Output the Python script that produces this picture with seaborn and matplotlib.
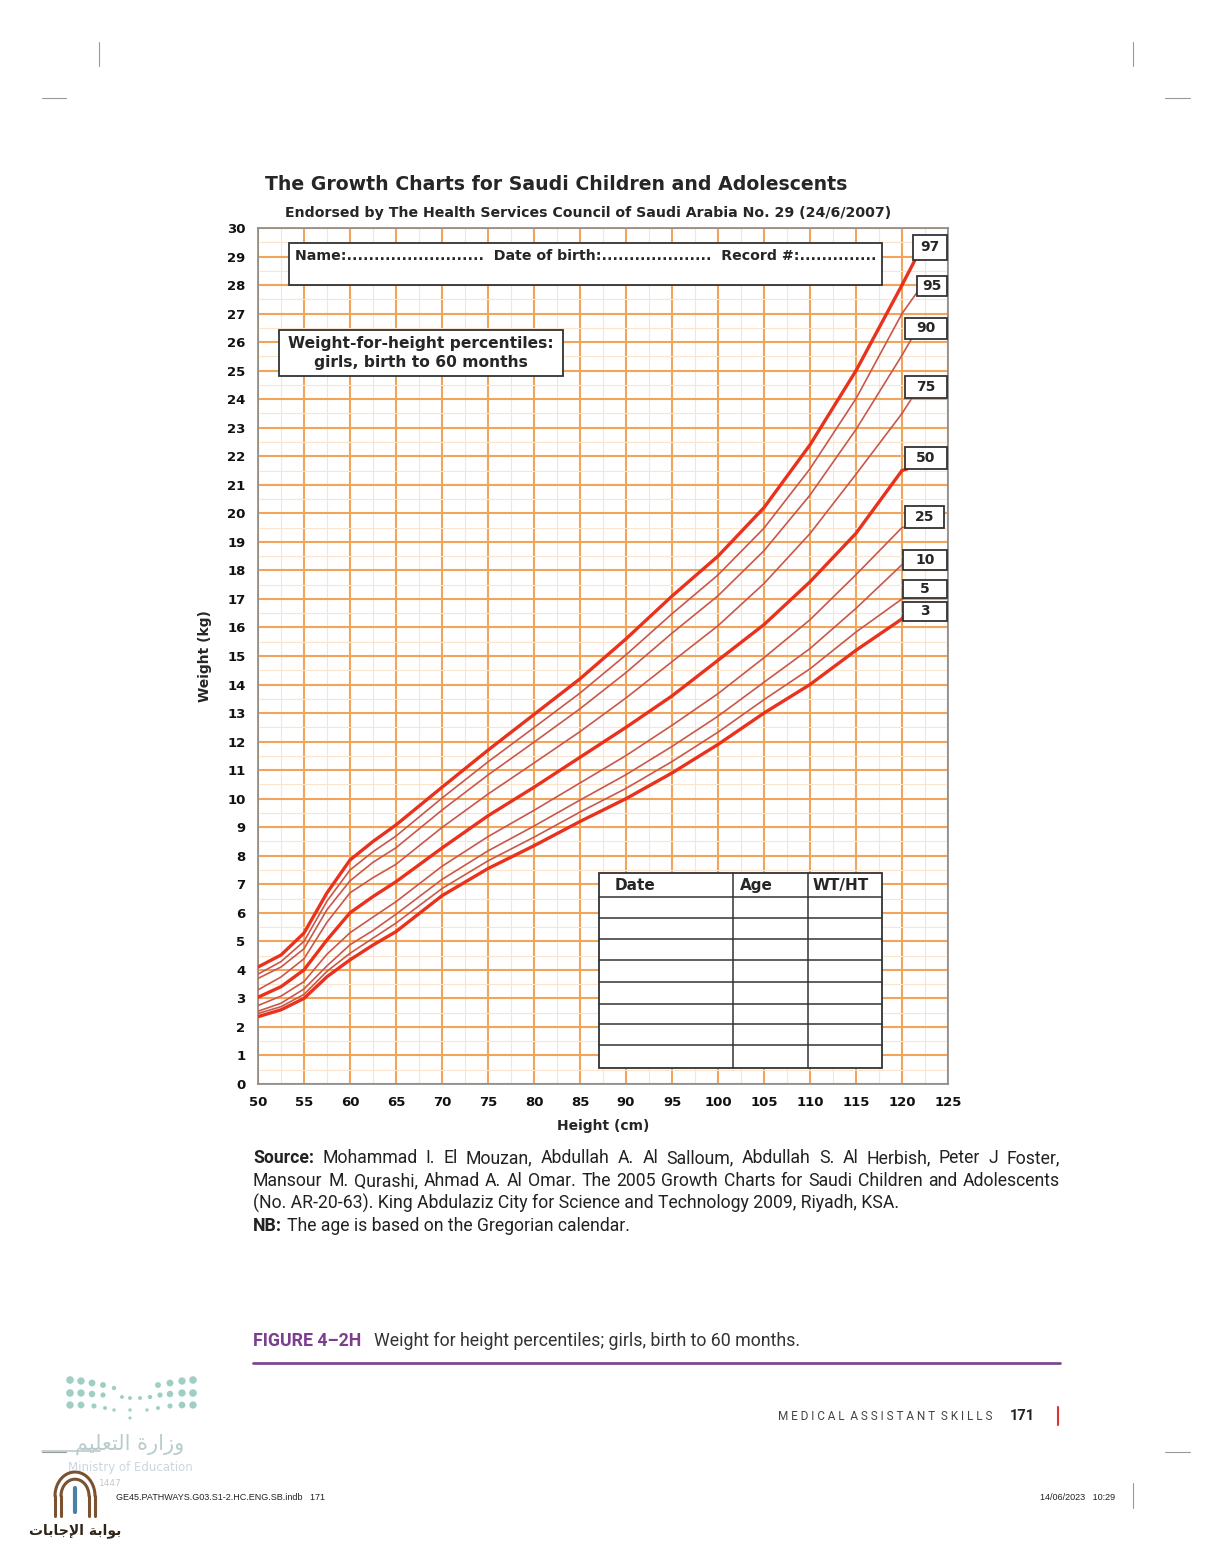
import numpy as np
import pandas as pd
import matplotlib
matplotlib.use("Agg")
import matplotlib.pyplot as plt
import seaborn as sns
from matplotlib.patches import Rectangle
from matplotlib.lines import Line2D
from matplotlib.ticker import MultipleLocator

# ---------------- data ----------------
heights = [50, 52.5, 55, 57.5, 60, 62.5, 65, 70, 75, 80, 85, 90, 95, 100, 105, 110, 115, 120]
p97 = [4.10, 4.52, 5.29, 6.70, 7.85, 8.50, 9.08, 10.40, 11.70, 12.95, 14.20, 15.60, 17.10, 18.50, 20.20, 22.40, 25.00, 28.00]
p95 = [3.85, 4.29, 5.00, 6.41, 7.50, 8.14, 8.69, 10.02, 11.29, 12.49, 13.70, 15.04, 16.48, 17.84, 19.48, 21.56, 24.02, 27.00]
p90 = [3.70, 4.10, 4.74, 6.11, 7.12, 7.77, 8.28, 9.60, 10.83, 11.98, 13.15, 14.42, 15.80, 17.11, 18.69, 20.64, 22.94, 25.54]
p75 = [3.30, 3.75, 4.39, 5.67, 6.70, 7.23, 7.70, 8.99, 10.16, 11.25, 12.35, 13.53, 14.80, 16.06, 17.54, 19.29, 21.37, 23.50]
p50 = [3.04, 3.41, 4.00, 5.05, 6.00, 6.57, 7.09, 8.27, 9.40, 10.40, 11.45, 12.50, 13.60, 14.85, 16.10, 17.60, 19.30, 21.50]
p25 = [2.75, 3.08, 3.59, 4.55, 5.30, 5.85, 6.39, 7.63, 8.67, 9.59, 10.55, 11.51, 12.57, 13.68, 14.94, 16.27, 17.85, 19.50]
p10 = [2.55, 2.83, 3.33, 4.14, 4.88, 5.38, 5.95, 7.17, 8.17, 9.04, 9.95, 10.84, 11.83, 12.89, 14.08, 15.26, 16.67, 18.20]
p5 = [2.47, 2.71, 3.14, 3.95, 4.58, 5.11, 5.64, 6.85, 7.82, 8.65, 9.53, 10.36, 11.30, 12.33, 13.47, 14.55, 15.84, 17.00]
p3 = [2.36, 2.60, 3.00, 3.76, 4.35, 4.87, 5.34, 6.60, 7.55, 8.35, 9.20, 10.00, 10.90, 11.90, 13.00, 14.00, 15.20, 16.30]

percentiles = ["97", "95", "90", "75", "50", "25", "10", "5", "3"]
series = [p97, p95, p90, p75, p50, p25, p10, p5, p3]
bold_pcts = ["97", "50", "3"]

x_ticks = list(range(50, 126, 5))
y_ticks = list(range(0, 31))

table_headers = ["Date", "Age", "WT/HT"]

df = pd.DataFrame({
    "height": np.tile(heights, len(percentiles)),
    "weight": np.concatenate(series),
    "pct": np.repeat(percentiles, len(heights)),
})

# ---------------- style ----------------
sns.set_style("white")
plt.rcParams["font.family"] = ["DejaVu Sans"]

W, H = 1206, 1551
fig = plt.figure(figsize=(W / 100, H / 100), dpi=100)
fig.patch.set_facecolor("white")


def fx(px):
    return px / W


def fy(py):
    return 1 - py / H


def dx(px):
    return 50 + (px - 258) / 9.2


def dy(py):
    return (1084 - py) / 28.533


ax = fig.add_axes([fx(258), fy(1084), 690 / W, 856 / H])
ax.set_xlim(50, 125)
ax.set_ylim(0, 30)

# grid
ax.xaxis.set_major_locator(MultipleLocator(5))
ax.yaxis.set_major_locator(MultipleLocator(1))
ax.xaxis.set_minor_locator(MultipleLocator(2.5))
ax.yaxis.set_minor_locator(MultipleLocator(0.5))
ax.set_axisbelow(True)
ax.grid(which="major", color="#f2a45a", lw=1.5)
ax.grid(which="minor", color="#fbe4cb", lw=0.8)
ax.set_xticks(x_ticks)
ax.set_yticks(y_ticks)
ax.set_xticklabels([str(v) for v in x_ticks], fontweight="bold", fontsize=9.5)
ax.set_yticklabels([str(v) for v in y_ticks], fontweight="bold", fontsize=9.5)
ax.tick_params(axis="both", which="both", length=0, pad=9, colors="#111")
for s in ax.spines.values():
    s.set_color("#8a8a8a")
    s.set_linewidth(1.2)

ax.set_xlabel("Height (cm)", fontweight="bold", fontsize=10, labelpad=7)
ax.set_ylabel("Weight (kg)", fontweight="bold", fontsize=10, labelpad=11)

THICK_C, THIN_C = "#e8321e", "#c9574a"

# curves
for pct in percentiles:
    sub = df[df["pct"] == pct]
    thick = pct in bold_pcts
    sns.lineplot(data=sub, x="height", y="weight", ax=ax,
                 color=THICK_C if thick else THIN_C,
                 lw=2.4 if thick else 1.2, legend=False, zorder=4)

# percentile label boxes (pixel extents in the page) and leader-line end points
label_boxes = {"97": (913, 947, 235, 260), "95": (917, 947, 276, 296),
               "90": (905, 947, 318, 339), "75": (905, 947, 376, 398),
               "50": (905, 947, 447, 469), "25": (905, 944, 506, 528),
               "10": (903, 947, 550, 570), "5": (903, 947, 580, 598),
               "3": (903, 947, 602, 621)}
leader_ends = {"97": (915, 260), "95": (918, 291), "90": (912, 338), "75": (912, 398),
               "50": (907, 469), "25": (906, 527), "10": (906, 567), "5": (905, 598),
               "3": (904, 616)}
for pct, vals in zip(percentiles, series):
    thick = pct in bold_pcts
    ex, ey = leader_ends[pct]
    ax.plot([heights[-1], dx(ex)], [vals[-1], dy(ey)], color=THICK_C if thick else THIN_C,
            lw=2.4 if thick else 1.2, clip_on=False, zorder=4, solid_capstyle="round")
    x0, x1, y0, y1 = label_boxes[pct]
    ax.add_patch(Rectangle((dx(x0), dy(y1)), dx(x1) - dx(x0), dy(y0) - dy(y1),
                           fc="white", ec="#333", lw=1.3, clip_on=False, zorder=6))
    ax.text((dx(x0) + dx(x1)) / 2, (dy(y0) + dy(y1)) / 2, pct, ha="center", va="center",
            fontsize=10, fontweight="bold", zorder=7, clip_on=False)

# name box
ax.add_patch(Rectangle((dx(289), dy(285)), dx(882) - dx(289), dy(243) - dy(285),
                       fc="white", ec="#333", lw=1.3, zorder=5))
ax.text(dx(295), dy(256), "Name:.........................  Date of birth:....................  Record #:..............",
        ha="left", va="center", fontsize=10.2, fontweight="bold", zorder=6)

# chart title box
ax.add_patch(Rectangle((dx(279), dy(376)), dx(563) - dx(279), dy(330) - dy(376),
                       fc="white", ec="#333", lw=1.3, zorder=5))
ax.text(dx(421), dy(353), "Weight-for-height percentiles:\ngirls, birth to 60 months",
        ha="center", va="center", fontsize=11.2, fontweight="bold", linespacing=1.3, zorder=6)

# record table
tx0, tx1 = dx(599), dx(882)
ty0, ty1 = dy(1068), dy(873)
ax.add_patch(Rectangle((tx0, ty0), tx1 - tx0, ty1 - ty0, fc="white", ec="#333", lw=1.3, zorder=5))
for py in [897, 918, 939, 960, 982, 1004, 1024, 1045]:
    ax.plot([tx0, tx1], [dy(py), dy(py)], color="#333", lw=1.1, zorder=6)
for px in [733, 808]:
    ax.plot([dx(px), dx(px)], [ty0, ty1], color="#333", lw=1.1, zorder=6)
for hdr, px in zip(table_headers, [615, 740, 813]):
    ax.text(dx(px), dy(886), hdr, ha="left", va="center", fontsize=11, fontweight="bold", zorder=7)

# ---------------- page texts ----------------
fig.text(fx(556), fy(184), "The Growth Charts for Saudi Children and Adolescents",
         ha="center", va="center", fontsize=13.6, fontweight="bold")
fig.text(fx(588), fy(213), "Endorsed by The Health Services Council of Saudi Arabia No. 29 (24/6/2007)",
         ha="center", va="center", fontsize=10.2, fontweight="bold")

src_font = "Roboto"
SRC_SIZE = 12.7
renderer = fig.canvas.get_renderer()


def justified(words, py, x0, x1):
    """words: list of (text, bold)"""
    arts = [fig.text(0, fy(py), w, ha="left", va="center", fontsize=SRC_SIZE,
                     fontweight="bold" if b else "normal", family=src_font, color="#222")
            for w, b in words]
    widths = [a.get_window_extent(renderer).width for a in arts]
    gap = (x1 - x0 - sum(widths)) / (len(arts) - 1)
    x = x0
    for a, wd in zip(arts, widths):
        a.set_x(fx(x))
        x += wd + gap


line1 = [("Source:", True)] + [(w, False) for w in
         "Mohammad I. El Mouzan, Abdullah A. Al Salloum, Abdullah S. Al Herbish, Peter J Foster,".split()]
line2 = [(w, False) for w in
         "Mansour M. Qurashi, Ahmad A. Al Omar. The 2005 Growth Charts for Saudi Children and Adolescents".split()]
justified(line1, 1158, 253, 1060)
justified(line2, 1181, 253, 1060)
fig.text(fx(253), fy(1203), "(No. AR-20-63). King Abdulaziz City for Science and Technology 2009, Riyadh, KSA.",
         ha="left", va="center", fontsize=SRC_SIZE, family=src_font, color="#222")
fig.text(fx(253), fy(1226), "NB:", ha="left", va="center", fontsize=SRC_SIZE,
         fontweight="bold", family=src_font, color="#222")
fig.text(fx(287), fy(1226), "The age is based on the Gregorian calendar.",
         ha="left", va="center", fontsize=SRC_SIZE, family=src_font, color="#222")

fig.text(fx(253), fy(1341), "FIGURE 4\u20132H", ha="left", va="center", fontsize=12.8,
         fontweight="bold", family=src_font, color="#7b3f8e")
fig.text(fx(374), fy(1341), "Weight for height percentiles; girls, birth to 60 months.",
         ha="left", va="center", fontsize=12.8, family=src_font, color="#333")
fig.add_artist(Line2D([fx(253), fx(1060)], [fy(1363), fy(1363)], color="#7b4a8e", lw=2))

fig.text(fx(778), fy(1416), "M E D I C A L  A S S I S T A N T  S K I L L S",
         ha="left", va="center", fontsize=8.5, family=src_font, color="#444")
fig.text(fx(1010), fy(1416), "171", ha="left", va="center", fontsize=10.5,
         fontweight="bold", family=src_font, color="#222")
fig.add_artist(Line2D([fx(1058), fx(1058)], [fy(1407), fy(1425)], color="#e03030", lw=1.5))

# crop marks
for (x0, y0, x1, y1) in [(99, 42, 99, 66), (1133, 42, 1133, 66), (42, 98, 66, 98),
                         (1165, 98, 1190, 98), (42, 1452, 66, 1452), (1165, 1452, 1190, 1452),
                         (1133, 1483, 1133, 1508)]:
    fig.add_artist(Line2D([fx(x0), fx(x1)], [fy(y0), fy(y1)], color="#999", lw=0.8))

fig.text(fx(116), fy(1497), "GE45.PATHWAYS.G03.S1-2.HC.ENG.SB.indb   171", ha="left", va="center",
         fontsize=6.5, family="Liberation Sans", color="#222")
fig.text(fx(1040), fy(1497), "14/06/2023   10:29", ha="left", va="center",
         fontsize=6.5, family="Liberation Sans", color="#222")

# ministry logo (watermark) and site logo
dots = [(70, 1380, 30), (81, 1381, 28), (92, 1383, 24), (103, 1385, 18), (114, 1388, 10),
        (158, 1385, 18), (170, 1383, 24), (182, 1381, 28), (193, 1380, 30),
        (70, 1393, 30), (81, 1393, 28), (92, 1394, 22), (103, 1395, 14), (122, 1397, 8),
        (130, 1398, 8), (140, 1398, 8), (150, 1397, 10), (160, 1395, 14), (170, 1394, 22),
        (182, 1393, 28), (193, 1393, 30),
        (70, 1405, 28), (81, 1405, 24), (94, 1406, 14), (105, 1408, 8), (114, 1410, 6),
        (130, 1410, 6), (147, 1410, 6), (158, 1408, 8), (170, 1406, 14), (182, 1405, 24),
        (193, 1405, 28), (130, 1418, 5)]
lax = fig.add_axes([0, 0, 1, 1], zorder=-1)
lax.set_xlim(0, W)
lax.set_ylim(H, 0)
lax.axis("off")
lax.scatter([d[0] for d in dots], [d[1] for d in dots], s=[d[2] for d in dots],
            color="#9fcfc4", edgecolor="none")
lax.plot([42, 100], [1451, 1451], color="#b9cccc", lw=1.2)
# simple arch outline of the small site logo
t = np.linspace(0, np.pi, 40)
for r, c in [(20, "#7a5230"), (14, "#7a5230")]:
    lax.plot(75 + r * np.cos(t), 1496 - r * 1.2 * np.sin(t), color=c, lw=2.2)
    lax.plot([75 - r, 75 - r], [1496, 1516], color=c, lw=2.2)
    lax.plot([75 + r, 75 + r], [1496, 1516], color=c, lw=2.2)
lax.plot([75, 75], [1488, 1512], color="#4a7fa8", lw=3)

fig.text(fx(130), fy(1444),
         "\uFEE2\uFEF4\uFEE0\uFECC\uFE98\uFEDF\uFE8D \uFE93\uFEAD\uFE8D\uFEAF\uFEED",
         ha="center", va="center", fontsize=15, family="DejaVu Sans", color="#b9cccc")
fig.text(fx(130), fy(1468), "Ministry of Education", ha="center", va="center",
         fontsize=8.5, color="#cdd6de")
fig.text(fx(110), fy(1483), "1447", ha="center", va="center", fontsize=6.5, color="#c9c9c9")
fig.text(fx(75), fy(1531),
         "\uFE95\uFE8E\uFE91\uFE8E\uFE9F\uFEF9\uFE8D \uFE94\uFE91\uFE8D\uFEEE\uFE91",
         ha="center", va="center", fontsize=10, fontweight="bold",
         family="DejaVu Sans", color="#2e2418")

fig.savefig("out.png", dpi=100, facecolor="white")
